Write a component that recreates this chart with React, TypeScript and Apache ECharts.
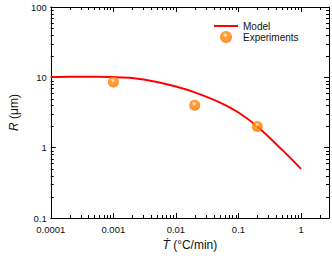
import React, { useEffect, useRef } from 'react';
import * as echarts from 'echarts';

const xTickLabels = ['0.0001', '0.001', '0.01', '0.1', '1'];
const yTickLabels = ['0.1', '1', '10', '100'];

const modelT = [0.0001, 0.0002, 0.0005, 0.001, 0.002, 0.005, 0.01, 0.02, 0.05, 0.1, 0.2, 0.5, 1];
const modelR = [10.1, 10.2, 10.2, 10.1, 9.8, 8.6, 7.4, 6.1, 4.4, 3.16, 2.0, 0.93, 0.5];

const expT = [0.001, 0.02, 0.2];
const expR = [8.6, 4.0, 2.0];

const X_MIN = 0.0001;
const X_MAX = 2.8;
const Y_MIN = 0.1;
const Y_MAX = 100;

const FONT = '"Liberation Sans", Arial, sans-serif';

function minorTicks(lo: number, hi: number): number[] {
  const out: number[] = [];
  const e0 = Math.floor(Math.log10(lo));
  const e1 = Math.ceil(Math.log10(hi));
  for (let e = e0; e <= e1; e++) {
    for (let m = 2; m <= 9; m++) {
      const v = m * Math.pow(10, e);
      if (v > lo && v < hi) out.push(v);
    }
  }
  return out;
}

const xMinor = minorTicks(X_MIN, X_MAX);
const yMinor = minorTicks(Y_MIN, Y_MAX);

function labelFor(labels: string[], offset: number) {
  return (v: number) => {
    const l = Math.log10(v);
    const e = Math.round(l);
    if (Math.abs(l - e) > 1e-6) return '';
    return labels[e + offset] ?? '';
  };
}

const px = (v: number) => Math.round(v) + 0.5;

export default function App() {
  const ref = useRef<HTMLDivElement>(null);
  useEffect(() => {
    if (!ref.current) return;
    const chart = echarts.init(ref.current, undefined, { renderer: 'svg' });
    const axisCommon = {
      type: 'log' as const,
      logBase: 10,
      axisLine: { show: true, lineStyle: { color: '#000', width: 1 } },
      axisTick: { show: true, inside: true, length: 5, lineStyle: { color: '#000', width: 1 } },
      splitLine: { show: false },
      minorTick: { show: false },
    };
    const ballColor = new echarts.graphic.RadialGradient(0.45, 0.35, 0.65, [
      { offset: 0, color: '#ffffff' },
      { offset: 0.12, color: '#ffd8b0' },
      { offset: 0.3, color: '#ff8a00' },
      { offset: 0.75, color: '#ff7c00' },
      { offset: 1, color: '#e66a00' },
    ]);
    chart.setOption({
      animation: false,
      backgroundColor: '#fff',
      grid: { left: 43, right: 3, top: 7, bottom: 36, containLabel: false },
      legend: {
        orient: 'vertical',
        left: 213,
        top: 21,
        itemWidth: 24,
        itemHeight: 12,
        itemGap: 0,
        padding: 0,
        textStyle: { fontSize: 10, color: '#111', fontFamily: FONT },
        data: [
          { name: 'Model', itemStyle: { color: 'rgba(0,0,0,0)', borderWidth: 0, opacity: 0 } },
          { name: 'Experiments', icon: 'circle' },
        ],
      },
      xAxis: [
        {
          ...axisCommon,
          min: X_MIN,
          max: X_MAX,
          position: 'bottom',
          axisLabel: {
            fontSize: 9.5,
            color: '#111',
            fontFamily: FONT,
            margin: 6,
            formatter: labelFor(xTickLabels, 4),
          },
          name: '{i|Ṫ} (°C/min)',
          nameLocation: 'middle',
          nameGap: 21,
          nameTextStyle: {
            fontSize: 12,
            color: '#111',
            fontFamily: FONT,
            rich: { i: { fontSize: 12, fontStyle: 'italic', color: '#111', fontFamily: FONT } },
          },
        },
        {
          ...axisCommon,
          min: X_MIN,
          max: X_MAX,
          position: 'top',
          axisLabel: { show: false },
        },
      ],
      yAxis: [
        {
          ...axisCommon,
          min: Y_MIN,
          max: Y_MAX,
          position: 'left',
          axisLabel: {
            fontSize: 9.5,
            color: '#111',
            fontFamily: FONT,
            margin: 4,
            formatter: labelFor(yTickLabels, 1),
          },
          name: '{i|R} (μm)',
          nameLocation: 'middle',
          nameRotate: 90,
          nameGap: 30,
          nameTextStyle: {
            fontSize: 12,
            color: '#111',
            fontFamily: FONT,
            rich: { i: { fontSize: 12, fontStyle: 'italic', color: '#111', fontFamily: FONT } },
          },
        },
        {
          ...axisCommon,
          min: Y_MIN,
          max: Y_MAX,
          position: 'right',
          axisLabel: { show: false },
        },
      ],
      series: [
        {
          name: 'xMinorTicks',
          type: 'custom',
          silent: true,
          xAxisIndex: 0,
          yAxisIndex: 0,
          data: xMinor.map((v) => [v, Y_MIN]),
          renderItem: (_p: any, api: any) => {
            const v = api.value(0);
            const b = api.coord([v, Y_MIN]);
            const t = api.coord([v, Y_MAX]);
            const x = px(b[0]);
            return {
              type: 'group',
              children: [
                { type: 'line', shape: { x1: x, y1: b[1], x2: x, y2: b[1] - 3 }, style: { stroke: '#000', lineWidth: 1 } },
                { type: 'line', shape: { x1: x, y1: t[1], x2: x, y2: t[1] + 3 }, style: { stroke: '#000', lineWidth: 1 } },
              ],
            };
          },
          z: 1,
        },
        {
          name: 'yMinorTicks',
          type: 'custom',
          silent: true,
          xAxisIndex: 0,
          yAxisIndex: 0,
          data: yMinor.map((v) => [X_MIN, v]),
          renderItem: (_p: any, api: any) => {
            const v = api.value(1);
            const l = api.coord([X_MIN, v]);
            const r = api.coord([X_MAX, v]);
            const y = px(l[1]);
            return {
              type: 'group',
              children: [
                { type: 'line', shape: { x1: l[0], y1: y, x2: l[0] + 3, y2: y }, style: { stroke: '#000', lineWidth: 1 } },
                { type: 'line', shape: { x1: r[0], y1: y, x2: r[0] - 3, y2: y }, style: { stroke: '#000', lineWidth: 1 } },
              ],
            };
          },
          z: 1,
        },
        {
          name: 'Model',
          type: 'line',
          xAxisIndex: 0,
          yAxisIndex: 0,
          data: modelT.map((t, i) => [t, modelR[i]]),
          smooth: 0.3,
          symbol: 'none',
          lineStyle: { color: '#ff0000', width: 2 },
          itemStyle: { color: '#ff0000' },
          z: 3,
        },
        {
          name: 'Experiments',
          type: 'scatter',
          xAxisIndex: 0,
          yAxisIndex: 0,
          data: expT.map((t, i) => [t, expR[i]]),
          symbol: 'circle',
          symbolSize: 11,
          itemStyle: { color: ballColor },
          z: 4,
        },
      ],
    });
    return () => chart.dispose();
  }, []);
  return (
    <div
      ref={ref}
      style={{ position: 'fixed', left: 0, top: 0, width: 332, height: 256, background: '#fff' }}
    />
  );
}
